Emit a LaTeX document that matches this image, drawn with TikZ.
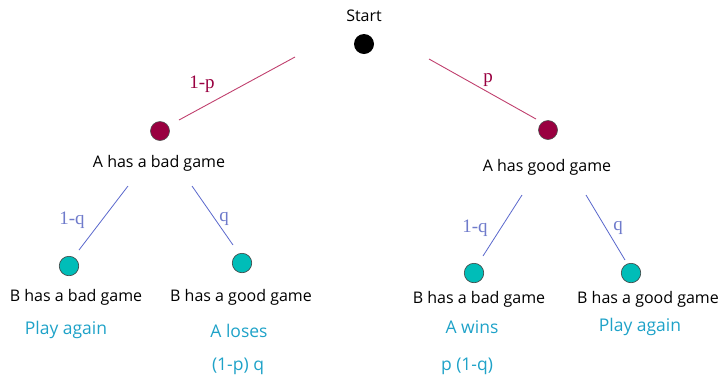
\documentclass[tikz,border=0pt]{standalone}
\usepackage{fontspec}
\setsansfont{Open Sans}
\newfontfamily\labfont{Liberation Serif}
\definecolor{crim}{HTML}{990040}
\definecolor{crimline}{HTML}{C0406E}
\definecolor{tealdot}{HTML}{00BDB8}
\definecolor{blueline}{HTML}{5A68CC}
\definecolor{bluelab}{HTML}{6F7BCB}
\definecolor{cyantext}{HTML}{1EA2C8}
\begin{document}
\begin{tikzpicture}[x=1pt,y=-1pt,
  blackdot/.style={circle,fill=black,minimum size=20pt,inner sep=0pt},
  crimdot/.style={circle,fill=crim,draw=black!70,line width=0.6pt,minimum size=19pt,inner sep=0pt},
  tealnode/.style={circle,fill=tealdot,draw=black!75,line width=0.6pt,minimum size=19.5pt,inner sep=0pt},
  btext/.style={font=\sffamily\fontsize{16}{18}\selectfont,text=black,inner sep=0pt},
  ctext/.style={font=\sffamily\fontsize{17.5}{20}\selectfont,text=cyantext,inner sep=0pt},
  plab/.style={font=\labfont\fontsize{19}{22}\selectfont,text=crim,inner sep=0pt},
  qlab/.style={font=\labfont\fontsize{19}{22}\selectfont,text=bluelab,inner sep=0pt},
  redline/.style={draw=crimline,line width=0.9pt},
  bline/.style={draw=blueline,line width=0.8pt}]
\useasboundingbox (0,0) rectangle (723,376);
% nodes
\node[btext] (tstart) at (364,16) {Start};
\node[blackdot] (start) at (364,44) {};
\node[crimdot] (abad) at (160,131) {};
\node[crimdot] (agood) at (548,130) {};
\node[btext] (tabad) at (159,163) {A has a bad game};
\node[btext] (tagood) at (547,167) {A has good game};
\node[tealnode] (lb1) at (69,266) {};
\node[tealnode] (lb2) at (242,263) {};
\node[tealnode] (rb1) at (474,273) {};
\node[tealnode] (rb2) at (631,273) {};
\node[btext] (tlb1) at (76,297) {B has a bad game};
\node[btext] (tlb2) at (241,297) {B has a good game};
\node[btext] (trb1) at (479,299) {B has a bad game};
\node[btext] (trb2) at (648,299) {B has a good game};
\node[ctext] (o1) at (66,330) {Play again};
\node[ctext] (o2) at (239,331) {A loses};
\node[ctext] (o3) at (472,327) {A wins};
\node[ctext] (o4) at (640,327) {Play again};
\node[ctext] (pr1) at (238,366) {(1-p) q};
\node[ctext] (pr2) at (467,366) {p (1-q)};
% connector end points
\coordinate (l1a) at (295,57);  \coordinate (l1b) at (179,120);
\coordinate (l2a) at (429,59);  \coordinate (l2b) at (536,119);
\coordinate (l3a) at (128,186); \coordinate (l3b) at (79,250);
\coordinate (l4a) at (192,186); \coordinate (l4b) at (233,245);
\coordinate (l5a) at (522,195); \coordinate (l5b) at (483,256);
\coordinate (l6a) at (586,195); \coordinate (l6b) at (625,260);
\draw[redline] (l1a) -- (l1b);
\draw[redline] (l2a) -- (l2b);
\draw[bline] (l3a) -- (l3b);
\draw[bline] (l4a) -- (l4b);
\draw[bline] (l5a) -- (l5b);
\draw[bline] (l6a) -- (l6b);
% branch labels
\node[plab] (p1) at (202,84) {1-p};
\node[plab] (p2) at (488,80) {p};
\node[qlab] (q1) at (72,220) {1-q};
\node[qlab] (q2) at (224,219) {q};
\node[qlab] (q3) at (475,228) {1-q};
\node[qlab] (q4) at (618,228) {q};
\end{tikzpicture}
\end{document}
